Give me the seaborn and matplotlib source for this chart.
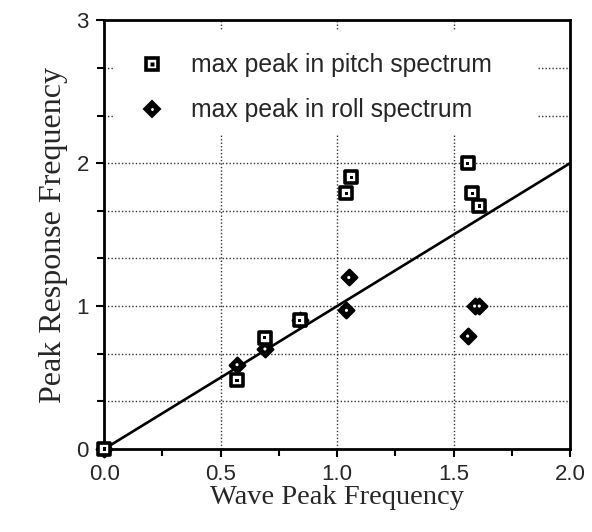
import matplotlib
matplotlib.use("Agg")
import matplotlib.pyplot as plt
from matplotlib.lines import Line2D
from matplotlib.patches import Rectangle
from matplotlib.legend_handler import HandlerTuple
from matplotlib.ticker import MultipleLocator
import seaborn as sns
import pandas as pd
import numpy as np

# data
pitch_x = [0.0, 0.57, 0.69, 0.84, 1.04, 1.06, 1.56, 1.58, 1.61]
pitch_y = [0.0, 0.48, 0.78, 0.90, 1.79, 1.90, 2.00, 1.79, 1.70]
roll_x = [0.0, 0.57, 0.69, 0.84, 1.05, 1.04, 1.56, 1.59, 1.61]
roll_y = [0.0, 0.59, 0.70, 0.90, 1.20, 0.97, 0.79, 1.00, 1.00]
line_x = [0.0, 2.0]
line_y = [0.0, 2.0]
x_ticks = [0.0, 0.5, 1.0, 1.5, 2.0]
x_ticklabels = ["0.0", "0.5", "1.0", "1.5", "2.0"]
y_ticks = [0, 1, 2, 3]
y_ticklabels = ["0", "1", "2", "3"]
legend_labels = ["max peak in pitch spectrum", "max peak in roll spectrum"]

sns.set_style("white")
plt.rcParams['font.family'] = ['Liberation Sans', 'DejaVu Sans']

fig = plt.figure(figsize=(5.92, 5.32), dpi=100)
ax = fig.add_axes([0.176, 0.156, 0.787, 0.806])

pitch = pd.DataFrame({"x": pitch_x, "y": pitch_y})
roll = pd.DataFrame({"x": roll_x, "y": roll_y})
line = pd.DataFrame({"x": line_x, "y": line_y})

sns.lineplot(data=line, x="x", y="y", color="black", linewidth=1.9, ax=ax, zorder=3)

sns.scatterplot(data=roll, x="x", y="y", marker="D", s=62, color="black",
                edgecolor="black", linewidth=1.8, ax=ax, zorder=4)
sns.scatterplot(data=roll, x="x", y="y", marker="o", s=5, color="white",
                edgecolor="none", ax=ax, zorder=5)
sns.scatterplot(data=pitch, x="x", y="y", marker="s", s=70, color="white",
                edgecolor="black", linewidth=2.6, ax=ax, zorder=6)
sns.scatterplot(data=pitch, x="x", y="y", marker="s", s=5, color="black",
                edgecolor="none", ax=ax, zorder=7)
for coll in ax.collections:
    coll.set_clip_on(False)

ax.set_xlim(0, 2.0)
ax.set_ylim(0, 3.0)

# grid
for gx in [0.5, 1.0, 1.5]:
    ax.axvline(gx, color="#333333", linestyle=(0, (1, 1.5)), linewidth=1.0, zorder=1)
for gy in np.arange(1, 9) / 3.0:
    ax.axhline(gy, color="#333333", linestyle=(0, (1, 1.5)), linewidth=1.0, zorder=1)

ax.set_xticks(x_ticks)
ax.set_xticklabels(x_ticklabels)
ax.set_yticks(y_ticks)
ax.set_yticklabels(y_ticklabels)
ax.xaxis.set_minor_locator(MultipleLocator(0.25))
ax.yaxis.set_minor_locator(MultipleLocator(1 / 3))
ax.tick_params(axis="both", which="both", direction="out", color="black",
               width=1.5, length=6, labelsize=16, pad=5)
ax.tick_params(axis="both", which="minor", length=5)
ax.tick_params(axis="x", which="both", bottom=True)
ax.tick_params(axis="y", which="both", left=True)

for sp in ax.spines.values():
    sp.set_visible(True)
    sp.set_color("black")
    sp.set_linewidth(2.0)

ax.set_xlabel("Wave Peak Frequency", family=["Liberation Serif"], fontsize=20.5, labelpad=0)
ax.set_ylabel("Peak Response Frequency", family=["Liberation Serif"], fontsize=23, labelpad=6)

# white box behind legend
ax.add_patch(Rectangle((0.024, 0.732), 0.906, 0.245, transform=ax.transAxes,
                       facecolor="white", edgecolor="none", zorder=8))

h_pitch = (Line2D([], [], marker="s", markersize=8.5, markerfacecolor="white",
                  markeredgecolor="black", markeredgewidth=2.6, linestyle="none"),
           Line2D([], [], marker="s", markersize=2.2, markerfacecolor="black",
                  markeredgecolor="none", linestyle="none"))
h_roll = (Line2D([], [], marker="D", markersize=8, markerfacecolor="black",
                 markeredgecolor="black", markeredgewidth=1.5, linestyle="none"),
          Line2D([], [], marker="o", markersize=2, markerfacecolor="white",
                 markeredgecolor="none", linestyle="none"))
leg = ax.legend([h_pitch, h_roll], legend_labels,
                handler_map={tuple: HandlerTuple(ndivide=1, pad=0)},
                loc="upper left", bbox_to_anchor=(0.077, 0.923), frameon=False,
                fontsize=17.8, handletextpad=1.05, labelspacing=0.85, borderpad=0,
                borderaxespad=0, handlelength=1.0)
leg.set_zorder(10)

fig.savefig("out.png", dpi=100)
